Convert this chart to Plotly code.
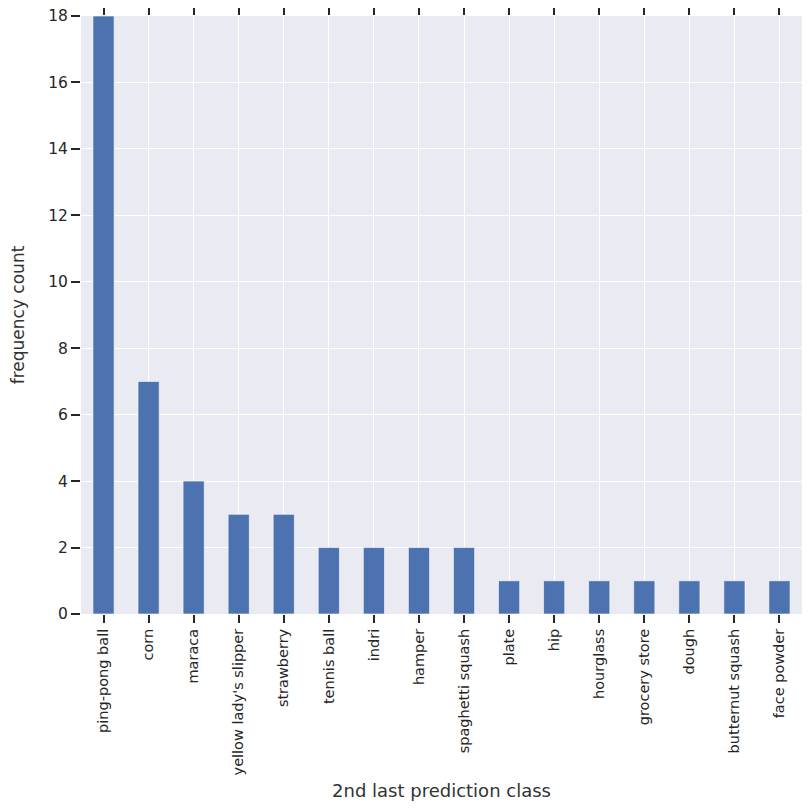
import plotly.graph_objects as go

classes = ["ping-pong ball", "corn", "maraca", "yellow lady's slipper", "strawberry",
           "tennis ball", "indri", "hamper", "spaghetti squash", "plate", "hip",
           "hourglass", "grocery store", "dough", "butternut squash", "face powder"]
counts = [18, 7, 4, 3, 3, 2, 2, 2, 2, 1, 1, 1, 1, 1, 1, 1]
y_ticks = [0, 2, 4, 6, 8, 10, 12, 14, 16, 18]

fig = go.Figure()
fig.add_trace(go.Bar(x=classes, y=counts, marker_color="#4C72B0",
                     marker_line=dict(color="white", width=0.6)))

# page body adds 8px round the figure, so margins and size make up for it
fig.update_layout(
    width=803, height=795,
    margin=dict(l=73, r=9, t=8, b=189, autoexpand=False),
    plot_bgcolor="#EAEAF2", paper_bgcolor="white",
    font=dict(family="DejaVu Sans", color="#262626", size=14),
    bargap=0.53, showlegend=False,
)
fig.update_xaxes(
    range=[-0.5, 15.5], tickangle=-90, tickfont=dict(size=14.5),
    showgrid=True, gridcolor="white", gridwidth=1.3,
    ticks="outside", ticklen=8, tickwidth=1.8, tickcolor="#262626",
    mirror="ticks", showline=False, zeroline=False, automargin=False,
    title=dict(text="2nd last prediction class", font=dict(size=18, color="#333333"), standoff=9),
)
fig.update_yaxes(
    range=[0, 18], tickvals=y_ticks, tickfont=dict(size=15.5),
    showgrid=True, gridcolor="white", gridwidth=1.3,
    ticks="outside", ticklen=9, tickwidth=1.8, tickcolor="#262626",
    mirror="ticks", showline=False, zeroline=False, automargin=False,
    ticklabeloverflow="allow",
    title=dict(text="frequency count", font=dict(size=17, color="#333333"), standoff=19),
)

fig.write_html("out.html")
